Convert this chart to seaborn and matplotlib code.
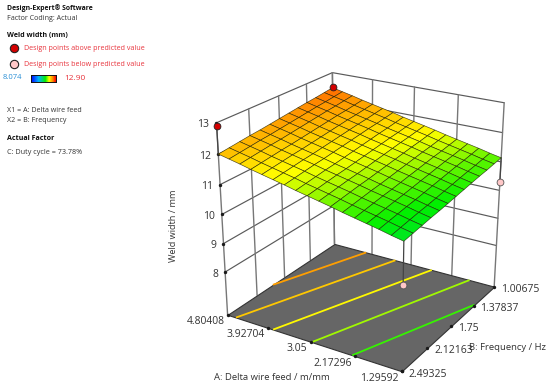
import numpy as np, matplotlib
matplotlib.use('Agg')
import matplotlib.pyplot as plt
import seaborn as sns
from matplotlib.colors import LinearSegmentedColormap, Normalize
from matplotlib.lines import Line2D
from mpl_toolkits.mplot3d import proj3d

A_ticks = [1.29592, 2.17296, 3.05, 3.92704, 4.80408]
B_ticks = [1.00675, 1.37837, 1.75, 2.12163, 2.49325]
Z_ticks = [8, 9, 10, 11, 12, 13]
Z_floor = 6.45
# Weld width: rows run B low -> high, columns A low -> high
weld_width = np.array([
[11.14,11.22,11.31,11.39,11.47,11.55,11.64,11.72,11.80,11.88,11.97,12.05,12.13,12.21,12.30,12.38,12.46],
[11.10,11.18,11.27,11.35,11.43,11.51,11.60,11.68,11.76,11.84,11.93,12.01,12.09,12.17,12.26,12.34,12.42],
[11.06,11.14,11.23,11.31,11.39,11.47,11.56,11.64,11.72,11.80,11.89,11.97,12.05,12.13,12.22,12.30,12.38],
[11.03,11.11,11.20,11.28,11.36,11.44,11.53,11.61,11.69,11.77,11.86,11.94,12.02,12.10,12.19,12.27,12.35],
[10.99,11.07,11.16,11.24,11.32,11.40,11.49,11.57,11.65,11.73,11.82,11.90,11.98,12.06,12.15,12.23,12.31],
[10.95,11.03,11.12,11.20,11.28,11.36,11.45,11.53,11.61,11.69,11.78,11.86,11.94,12.02,12.11,12.19,12.27],
[10.91,10.99,11.08,11.16,11.24,11.32,11.41,11.49,11.57,11.65,11.74,11.82,11.90,11.98,12.07,12.15,12.23],
[10.87,10.95,11.04,11.12,11.20,11.28,11.37,11.45,11.53,11.61,11.70,11.78,11.86,11.94,12.03,12.11,12.19],
[10.83,10.91,11.00,11.08,11.16,11.24,11.33,11.41,11.49,11.57,11.66,11.74,11.82,11.90,11.99,12.07,12.15],
[10.80,10.88,10.97,11.05,11.13,11.21,11.30,11.38,11.46,11.54,11.63,11.71,11.79,11.87,11.96,12.04,12.12],
[10.76,10.84,10.93,11.01,11.09,11.17,11.26,11.34,11.42,11.50,11.59,11.67,11.75,11.83,11.92,12.00,12.08],
[10.72,10.80,10.89,10.97,11.05,11.13,11.22,11.30,11.38,11.46,11.55,11.63,11.71,11.79,11.88,11.96,12.04],
[10.68,10.76,10.85,10.93,11.01,11.09,11.18,11.26,11.34,11.42,11.51,11.59,11.67,11.75,11.84,11.92,12.00],
])
contour_levels = [11.03, 11.33, 11.63, 11.93, 12.18]
above_A, above_B, above_Z = [4.80408, 4.80408], [2.49325, 1.00675], [12.90, 12.50]
below_A, below_B, below_Z = [1.29592, 1.29592], [1.00675, 2.49325], [10.30, 9.30]
z_low, z_high = 8.074, 12.90

sns.set_theme(style='white')
plt.rcParams['font.family'] = ['Open Sans', 'DejaVu Sans']
TEXT = '#333333'
W, H = 550, 392
cmap = LinearSegmentedColormap.from_list('rsm', [(0, '#0000ff'), (.3, '#00b4ff'), (.58, '#00f000'),
                                                 (.73, '#ffff00'), (.87, '#ff9000'), (1, '#ff0000')])
norm = Normalize(z_low, z_high)

fig = plt.figure(figsize=(W/100, H/100), dpi=100)
sz = 339.15
ax = fig.add_axes([190.13/W, 7.84/H, sz/W, sz/H], projection='3d', computed_zorder=False)
ax.set_axis_off()
ax.view_init(23.39, 121.69)
ax.set_proj_type('persp', focal_length=0.5824)
ax.set_box_aspect((1.4038, 1.3669, 1.4138))
a0, a1, b0, b1, z1 = A_ticks[0], A_ticks[-1], B_ticks[0], B_ticks[-1], Z_ticks[-1]
ax.set_xlim(a0, a1); ax.set_ylim(b0, b1); ax.set_zlim(Z_floor, z1)
ax.set_autoscale_on(False)

grid_c, grid_lw = '#5a5a5a', 0.85
for z in Z_ticks:
    ax.plot([a1, a1], [b1, b0], [z, z], color=grid_c, lw=grid_lw, zorder=1)
    ax.plot([a1, a0], [b0, b0], [z, z], color=grid_c, lw=grid_lw, zorder=1)
for b in B_ticks:
    ax.plot([a1, a1], [b, b], [Z_floor, z1], color='#777777', lw=1, zorder=1)
for a in A_ticks:
    ax.plot([a, a], [b0, b0], [Z_floor, z1], color='#777777', lw=1, zorder=1)
ax.plot_surface(np.array([[a0, a1], [a0, a1]]), np.array([[b0, b0], [b1, b1]]),
                np.full((2, 2), Z_floor), color='#666666', shade=False, edgecolor='#333333',
                linewidth=0.8, zorder=2)
AA, BB = np.meshgrid(np.linspace(a0, a1, weld_width.shape[1]), np.linspace(b0, b1, weld_width.shape[0]))
corner = np.ix_([0, -1], [0, -1])
ax.contour(AA[corner], BB[corner], weld_width[corner], levels=contour_levels, zdir='z', offset=Z_floor,
           colors=[cmap(norm(l)) for l in contour_levels], linewidths=1.3, zorder=3)
ax.scatter(A_ticks, [b1]*5, [Z_floor]*5, c='k', s=6, depthshade=False, zorder=4, linewidths=0)
ax.scatter([a0]*5, B_ticks, [Z_floor]*5, c='k', s=6, depthshade=False, zorder=4, linewidths=0)
ax.scatter([a1]*6, [b1]*6, Z_ticks, c='k', s=6, depthshade=False, zorder=4, linewidths=0)
s_idx = {(a0, b0): weld_width[0, 0], (a0, b1): weld_width[-1, 0], (a1, b1): weld_width[-1, -1], (a1, b0): weld_width[0, -1]}
for x, y, z in list(zip(above_A, above_B, above_Z)) + list(zip(below_A, below_B, below_Z)):
    ax.plot([x, x], [y, y], [z, s_idx[(x, y)]], color='#444444', lw=0.9, zorder=5)
ax.plot_surface(AA, BB, weld_width, facecolors=cmap(norm(weld_width)), rstride=1, cstride=1, shade=False,
                edgecolor=(0.1, 0.1, 0, 0.8), linewidth=0.45, zorder=6)
ax.scatter(above_A, above_B, above_Z, c='#d40000', s=24, edgecolors='#222222', linewidths=.6, depthshade=False, zorder=7)
ax.scatter(below_A, below_B, below_Z, c='#ffc8c8', s=24, edgecolors='#555555', linewidths=.6, depthshade=False, zorder=7)

M = ax.get_proj()
def tick_label(x, y, z, s, dx, dy, ha):
    u, v, _ = proj3d.proj_transform(x, y, z, M)
    ax.annotate(s, (u, v), xytext=(dx*.72, -dy*.72), textcoords='offset points', ha=ha, va='center',
                fontsize=7.5, color=TEXT, annotation_clip=False)
for z in Z_ticks:
    tick_label(a1, b1, z, str(z), -7, 2, 'right')
for a, s in zip(A_ticks, ['1.29592', '2.17296', '3.05', '3.92704', '4.80408']):
    tick_label(a, b1, Z_floor, s, -3, 7, 'right')
for b, s in zip(B_ticks, ['1.00675', '1.37837', '1.75', '2.12163', '2.49325']):
    tick_label(a0, b, Z_floor, s, 7, 3, 'left')

def ftext(x, y, s, size=5.1, color=TEXT, weight='normal', **kw):
    fig.text(x/W, 1-y/H, s, fontsize=size, color=color, fontweight=weight, va='center', **kw)
ftext(173, 226, 'Weld width / mm', size=6.6, rotation=90, ha='center')
ftext(214, 377, 'A: Delta wire feed / m/mm', size=6.8)
ftext(469, 348, 'B: Frequency / Hz', size=6.8)

ftext(7, 8.5, 'Design-Expert® Software', size=4.95, weight='bold', color='#111111')
ftext(7, 18, 'Factor Coding: Actual')
ftext(7, 36, 'Weld width (mm)', weight='bold', color='#111111')
ftext(24, 48.5, 'Design points above predicted value', color='#e8333c')
ftext(24, 64, 'Design points below predicted value', color='#e8333c')
ftext(3, 77.5, '8.074', size=5.5, color='#2a8fd6')
ftext(64, 79, '12.90', size=6, color='#e8333c')
ftext(7, 110.5, 'X1 = A: Delta wire feed')
ftext(7, 120, 'X2 = B: Frequency')
ftext(7, 139, 'Actual Factor', weight='bold', color='#111111')
ftext(7, 152, 'C: Duty cycle = 73.78%', size=5.2)
for y, c in [(48, '#d40000'), (64, '#ffc8c8')]:
    fig.add_artist(Line2D([14/W], [1-y/H], marker='o', ms=6, mfc=c, mec='#222222', mew=.8, transform=fig.transFigure))
cax = fig.add_axes([31/W, 1-82/H, 25/W, 7/H])
cax.imshow(np.linspace(0, 1, 64)[None, :], cmap=cmap, aspect='auto')
cax.set_xticks([]); cax.set_yticks([])
for s in cax.spines.values():
    s.set_visible(True); s.set_color('#111111'); s.set_linewidth(.7)
fig.savefig('out.png', dpi=100)
